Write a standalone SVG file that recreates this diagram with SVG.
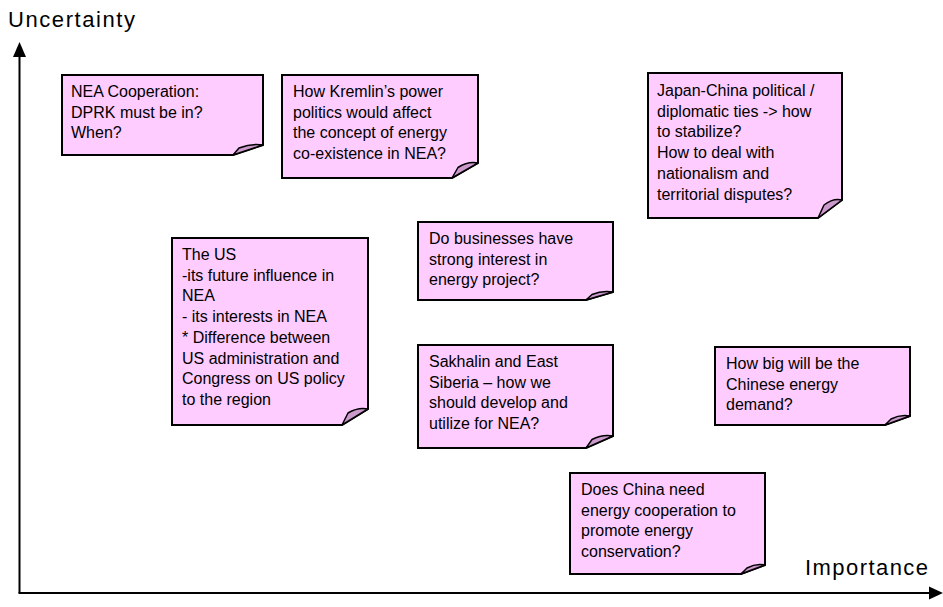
<svg xmlns="http://www.w3.org/2000/svg" width="943" height="607" viewBox="0 0 943 607">
<style>
.note{fill:#FFCCFF;stroke:#000;stroke-width:2;stroke-linejoin:miter}
.flap{fill:#CC99CC;stroke:#000;stroke-width:1.5;stroke-linejoin:round}
.t{font-family:"Liberation Sans",Arial,sans-serif;font-size:16px;fill:#000}
.ax{font-family:"Liberation Sans",Arial,sans-serif;fill:#000}
.axis{stroke:#000;stroke-width:2;fill:none}
</style>
<rect width="943" height="607" fill="#fff"/>
<g id="axes">
<line class="axis" x1="19.5" y1="593" x2="19.5" y2="55"/>
<polygon points="19.5,42 13,57 26,57" fill="#000"/>
<line class="axis" x1="18.5" y1="593" x2="931" y2="593"/>
<polygon points="943,593 929,586.5 929,599.5" fill="#000"/>
<text class="ax" x="8" y="27" font-size="22" textLength="127" lengthAdjust="spacing">Uncertainty</text>
<text class="ax" x="805" y="575" font-size="22" textLength="123" lengthAdjust="spacing">Importance</text>
</g>
<g id="n1">
<path class="note" d="M62,75 H263 V145 L233,155 H62 Z"/>
<path class="flap" d="M233,155 L239,148 Q251,143 263,145 Z"/>
<text class="t" x="71" y="97"><tspan x="71">NEA Cooperation:</tspan><tspan x="71" dy="20.7">DPRK must be in?</tspan><tspan x="71" dy="20.7">When?</tspan></text>
</g>
<g id="n2">
<path class="note" d="M282,75 H478 V163 L452,178 H282 Z"/>
<path class="flap" d="M452,178 L458,167.5 Q468,161 478,163 Z"/>
<text class="t" x="293" y="97"><tspan x="293">How Kremlin’s power</tspan><tspan x="293" dy="20.7">politics would affect</tspan><tspan x="293" dy="20.7">the concept of energy</tspan><tspan x="293" dy="20.7">co-existence in NEA?</tspan></text>
</g>
<g id="n3">
<path class="note" d="M648,73 H842 V200 L818,218 H648 Z"/>
<path class="flap" d="M818,218 L824,205 Q833,198 842,200 Z"/>
<text class="t" x="657" y="96"><tspan x="657">Japan-China political /</tspan><tspan x="657" dy="20.7">diplomatic ties -&gt; how</tspan><tspan x="657" dy="20.7">to stabilize?</tspan><tspan x="657" dy="20.7">How to deal with</tspan><tspan x="657" dy="20.7">nationalism and</tspan><tspan x="657" dy="20.7">territorial disputes?</tspan></text>
</g>
<g id="n4">
<path class="note" d="M172,238 H368 V409 L342,425 H172 Z"/>
<path class="flap" d="M342,425 L348,413 Q358,407 368,409 Z"/>
<text class="t" x="182" y="260"><tspan x="182">The US</tspan><tspan x="182" dy="20.7">-its future influence in</tspan><tspan x="182" dy="20.7">NEA</tspan><tspan x="182" dy="20.7">- its interests in NEA</tspan><tspan x="182" dy="20.7">* Difference between</tspan><tspan x="182" dy="20.7">US administration and</tspan><tspan x="182" dy="20.7">Congress on US policy</tspan><tspan x="182" dy="20.7">to the region</tspan></text>
</g>
<g id="n5">
<path class="note" d="M418,222 H613 V292 L586,300 H418 Z"/>
<path class="flap" d="M586,300 L592,294.5 Q602.5,290 613,292 Z"/>
<text class="t" x="429" y="244"><tspan x="429">Do businesses have</tspan><tspan x="429" dy="20.7">strong interest in</tspan><tspan x="429" dy="20.7">energy project?</tspan></text>
</g>
<g id="n6">
<path class="note" d="M418,345 H613 V436 L586,448 H418 Z"/>
<path class="flap" d="M586,448 L592,439.5 Q602.5,434 613,436 Z"/>
<text class="t" x="429" y="367"><tspan x="429">Sakhalin and East</tspan><tspan x="429" dy="20.7">Siberia – how we</tspan><tspan x="429" dy="20.7">should develop and</tspan><tspan x="429" dy="20.7">utilize for NEA?</tspan></text>
</g>
<g id="n7">
<path class="note" d="M715,347 H910 V416 L885,425 H715 Z"/>
<path class="flap" d="M885,425 L891,419 Q900.5,414 910,416 Z"/>
<text class="t" x="726" y="369"><tspan x="726">How big will be the</tspan><tspan x="726" dy="20.7">Chinese energy</tspan><tspan x="726" dy="20.7">demand?</tspan></text>
</g>
<g id="n8">
<path class="note" d="M570,473 H765 V565 L741,574 H570 Z"/>
<path class="flap" d="M741,574 L747,568 Q756,563 765,565 Z"/>
<text class="t" x="581" y="495"><tspan x="581">Does China need</tspan><tspan x="581" dy="20.7">energy cooperation to</tspan><tspan x="581" dy="20.7">promote energy</tspan><tspan x="581" dy="20.7">conservation?</tspan></text>
</g>
<g id="connectors"></g>
</svg>
